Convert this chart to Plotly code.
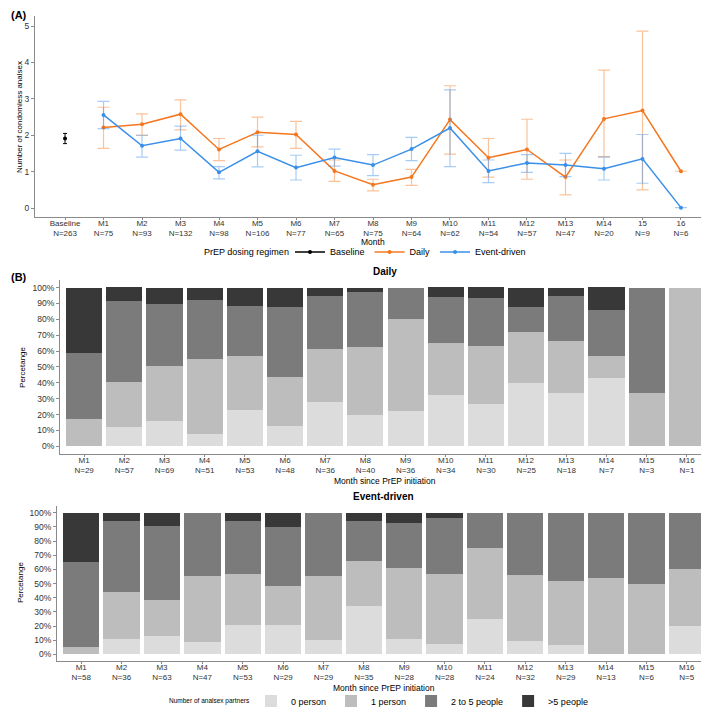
import plotly.graph_objects as go

W, H = 709, 708

# ---------------- panel A: condomless analsex per month ----------------
months_a = ["Baseline<br>N=263", "M1<br>N=75", "M2<br>N=93", "M3<br>N=132", "M4<br>N=98",
            "M5<br>N=106", "M6<br>N=77", "M7<br>N=65", "M8<br>N=75", "M9<br>N=64",
            "M10<br>N=62", "M11<br>N=54", "M12<br>N=57", "M13<br>N=47", "M14<br>N=20",
            "15<br>N=9", "16<br>N=6"]

baseline_mean = [1.91]
baseline_hi = [2.05]
baseline_lo = [1.77]

daily_mean = [2.21, 2.30, 2.58, 1.61, 2.08, 2.02, 1.02, 0.64, 0.85, 2.43, 1.38, 1.61, 0.85, 2.45, 2.68, 1.01]
daily_hi = [2.77, 2.59, 2.97, 1.91, 2.50, 2.38, 1.32, 0.79, 1.06, 3.36, 1.91, 2.44, 1.32, 3.79, 4.86, None]
daily_lo = [1.64, 2.00, 2.15, 1.30, 1.68, 1.64, 0.73, 0.47, 0.62, 1.48, 0.85, 0.79, 0.36, 1.41, 0.50, None]

ed_mean = [2.56, 1.71, 1.91, 0.98, 1.56, 1.11, 1.39, 1.18, 1.62, 2.20, 1.02, 1.24, 1.18, 1.08, 1.35, 0.01]
ed_hi = [2.93, 2.00, 2.25, 1.14, 2.00, 1.45, 1.62, 1.47, 1.94, 3.25, 1.32, 1.47, 1.50, 1.40, 2.02, None]
ed_lo = [2.18, 1.40, 1.59, 0.80, 1.13, 0.77, 1.15, 0.89, 1.30, 1.14, 0.70, 0.98, 0.86, 0.77, 0.68, None]

# ---------------- panel B: number of analsex partners (%) ----------------
partner_cats = ["0 person", "1 person", "2 to 5 people", ">5 people"]
partner_colors = ["#DCDCDC", "#BDBDBD", "#7B7B7B", "#383838"]

daily_months = ["M1<br>N=29", "M2<br>N=57", "M3<br>N=69", "M4<br>N=51", "M5<br>N=53", "M6<br>N=48",
                "M7<br>N=36", "M8<br>N=40", "M9<br>N=36", "M10<br>N=34", "M11<br>N=30", "M12<br>N=25",
                "M13<br>N=18", "M14<br>N=7", "M15<br>N=3", "M16<br>N=1"]
daily_0 = [0, 12.3, 15.9, 7.8, 22.6, 12.5, 27.8, 20.0, 22.2, 32.4, 26.7, 40.0, 33.3, 42.9, 0, 0]
daily_1 = [17.2, 28.1, 34.8, 47.1, 34.0, 31.2, 33.3, 42.5, 58.3, 32.4, 36.7, 32.0, 33.3, 14.3, 33.3, 100]
daily_2to5 = [41.4, 50.9, 39.1, 37.3, 32.1, 43.8, 33.3, 35.0, 19.4, 29.4, 30.0, 16.0, 27.8, 28.6, 66.7, 0]
daily_gt5 = [41.4, 8.8, 10.1, 7.8, 11.3, 12.5, 5.6, 2.5, 0, 5.9, 6.7, 12.0, 5.6, 14.3, 0, 0]

ed_months = ["M1<br>N=58", "M2<br>N=36", "M3<br>N=63", "M4<br>N=47", "M5<br>N=53", "M6<br>N=29",
             "M7<br>N=29", "M8<br>N=35", "M9<br>N=28", "M10<br>N=28", "M11<br>N=24", "M12<br>N=32",
             "M13<br>N=29", "M14<br>N=13", "M15<br>N=6", "M16<br>N=5"]
ed_0 = [0, 11.1, 12.7, 8.5, 20.8, 20.7, 10.3, 34.3, 10.7, 7.1, 25.0, 9.4, 6.9, 0, 0, 20.0]
ed_1 = [5.2, 33.3, 25.4, 46.8, 35.8, 27.6, 44.8, 31.4, 50.0, 50.0, 50.0, 46.9, 44.8, 53.8, 50.0, 40.0]
ed_2to5 = [60.3, 50.0, 52.4, 44.7, 37.7, 41.4, 44.8, 28.6, 32.1, 39.3, 25.0, 43.7, 48.3, 46.2, 50.0, 40.0]
ed_gt5 = [34.5, 5.6, 9.5, 0, 5.7, 10.3, 0, 5.7, 7.1, 3.6, 0, 0, 0, 0, 0, 0]

pct_ticks = list(range(0, 101, 10))
pct_labels = [f"{v}%" for v in pct_ticks]

ORANGE = "#F4771F"
BLUE = "#3A8FE8"
FONT = "Liberation Sans, Arial, sans-serif"
AXIS = "#8A8A8A"


def px_x(p):
    return p / W


def px_y(p):
    return 1 - p / H


def errs(mean, hi, lo):
    up = [None if h is None else h - m for m, h in zip(mean, hi)]
    dn = [None if l is None else m - l for m, l in zip(mean, lo)]
    return up, dn


fig = go.Figure()

# panel A lines
up, dn = errs(baseline_mean, baseline_hi, baseline_lo)
fig.add_trace(go.Scatter(
    x=months_a[:1], y=baseline_mean, mode="lines+markers", name="Baseline",
    line=dict(color="black", width=1.5), marker=dict(color="black", size=4),
    error_y=dict(type="data", array=up, arrayminus=dn, color="black", width=2, thickness=1),
    xaxis="x", yaxis="y", legend="legend"))

for name, mean, hi, lo, col, rgba in [
        ("Daily", daily_mean, daily_hi, daily_lo, ORANGE, "rgba(244,119,31,0.45)"),
        ("Event-driven", ed_mean, ed_hi, ed_lo, BLUE, "rgba(58,143,232,0.45)")]:
    up, dn = errs(mean, hi, lo)
    fig.add_trace(go.Scatter(
        x=months_a[1:], y=mean, mode="lines+markers", name=name,
        line=dict(color=col, width=1.5), marker=dict(color=col, size=4),
        error_y=dict(type="data", array=up, arrayminus=dn, color=rgba, width=6, thickness=1.2),
        xaxis="x", yaxis="y", legend="legend"))

# panel B stacked bars
daily_sets = [daily_0, daily_1, daily_2to5, daily_gt5]
ed_sets = [ed_0, ed_1, ed_2to5, ed_gt5]
for i, cat in enumerate(partner_cats):
    fig.add_trace(go.Bar(
        x=daily_months, y=daily_sets[i], name=cat, marker=dict(color=partner_colors[i], line=dict(width=0)),
        xaxis="x2", yaxis="y2", legend="legend2", legendgroup=cat, showlegend=True))
    fig.add_trace(go.Bar(
        x=ed_months, y=ed_sets[i], name=cat, marker=dict(color=partner_colors[i], line=dict(width=0)),
        xaxis="x3", yaxis="y3", legend="legend2", legendgroup=cat, showlegend=False))

xtick_font = dict(family=FONT, size=8, color="#333333")
ytick_font = dict(family=FONT, size=8.5, color="#333333")
common_x = dict(type="category", showline=True, linecolor=AXIS, linewidth=1, ticks="outside",
                ticklen=2, tickcolor=AXIS, showgrid=False, zeroline=False, tickfont=xtick_font,
                automargin=False, ticklabelstandoff=-4)
common_y = dict(showline=True, linecolor=AXIS, linewidth=1, ticks="outside", ticklen=3,
                tickcolor=AXIS, showgrid=False, zeroline=False, tickfont=ytick_font, automargin=False)

fig.update_layout(
    width=W, height=H, margin=dict(l=0, r=0, t=0, b=0),
    paper_bgcolor="white", plot_bgcolor="white",
    font=dict(family=FONT, color="black"),
    barmode="stack", bargap=0.1,
    xaxis=dict(common_x, domain=[px_x(27), px_x(703)], anchor="y", range=[-0.78, 16.78],
               categoryorder="array", categoryarray=months_a),
    yaxis=dict(common_y, domain=[px_y(210.7), px_y(8)], anchor="x", range=[-0.245, 5.28],
               tickvals=[0, 1, 2, 3, 4, 5]),
    xaxis2=dict(common_x, domain=[px_x(52), px_x(703)], anchor="y2", range=[-0.6, 15.6]),
    yaxis2=dict(common_y, domain=[px_y(450), px_y(274)], anchor="x2", range=[-5, 105],
                tickvals=pct_ticks, ticktext=pct_labels),
    xaxis3=dict(common_x, domain=[px_x(49), px_x(703)], anchor="y3", range=[-0.6, 15.6]),
    yaxis3=dict(common_y, domain=[px_y(659), px_y(502)], anchor="x3", range=[-5, 105],
                tickvals=pct_ticks, ticktext=pct_labels),
    legend=dict(orientation="h", x=px_x(282), xanchor="left", y=px_y(246), yanchor="middle",
                font=dict(size=9), itemwidth=30, bgcolor="rgba(0,0,0,0)",
                entrywidth=0, tracegroupgap=0),
    legend2=dict(orientation="h", x=px_x(243), xanchor="left", y=px_y(699), yanchor="middle",
                 font=dict(size=9), itemwidth=30, bgcolor="rgba(0,0,0,0)", traceorder="normal"),
    showlegend=True,
)

annots = [
    dict(text="<b>(A)</b>", x=px_x(1), y=px_y(7), xanchor="left", font=dict(size=11)),
    dict(text="<b>(B)</b>", x=px_x(1), y=px_y(271), xanchor="left", font=dict(size=11)),
    dict(text="<b>Daily</b>", x=px_x(377.5), y=px_y(266), font=dict(size=10)),
    dict(text="<b>Event-driven</b>", x=px_x(376), y=px_y(493), font=dict(size=10)),
    dict(text="Number of condomless analsex", x=px_x(11), y=px_y(110), textangle=-90, font=dict(size=8)),
    dict(text="Percetange", x=px_x(15), y=px_y(362), textangle=-90, font=dict(size=8)),
    dict(text="Percetange", x=px_x(12), y=px_y(580), textangle=-90, font=dict(size=8)),
    dict(text="Month", x=px_x(365), y=px_y(236), font=dict(size=8.5)),
    dict(text="Month since PrEP initiation", x=px_x(377.5), y=px_y(477), font=dict(size=8.5)),
    dict(text="Month since PrEP initiation", x=px_x(376), y=px_y(686), font=dict(size=8.5)),
    dict(text="PrEP dosing regimen", x=px_x(283), y=px_y(246), xanchor="right", font=dict(size=9)),
    dict(text="Number of analsex partners", x=px_x(244), y=px_y(699), xanchor="right", font=dict(size=6.5)),
]
for a in annots:
    fig.add_annotation(xref="paper", yref="paper", showarrow=False, yanchor="middle",
                       **({"xanchor": "center"} | a))

fig.write_html("out.html")
